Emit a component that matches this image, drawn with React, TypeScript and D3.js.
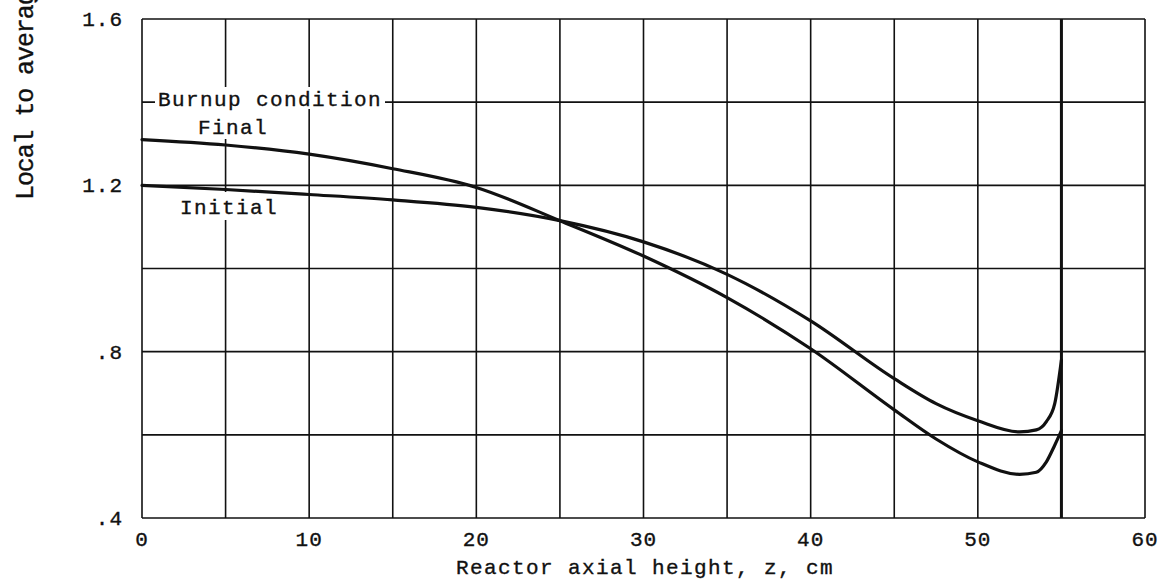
import React from "react";
import * as d3 from "d3";

// Axial positions (cm) at which the two distributions were read
const heights = [0, 5, 10, 15, 20, 25, 30, 35, 40, 45, 47.5, 50, 52.5, 53.5, 54.1, 54.6, 55];
// Local-to-average ratio, final burnup condition
const finalRatio = [1.31, 1.297, 1.275, 1.24, 1.195, 1.115, 1.03, 0.93, 0.807, 0.66, 0.59, 0.535, 0.505, 0.51, 0.535, 0.575, 0.61];
// Local-to-average ratio, initial burnup condition
const initialRatio = [1.2, 1.19, 1.178, 1.165, 1.147, 1.115, 1.064, 0.986, 0.874, 0.735, 0.675, 0.634, 0.607, 0.612, 0.632, 0.675, 0.78];

const xTicks = [0, 10, 20, 30, 40, 50, 60];
const xGrid = [0, 5, 10, 15, 20, 25, 30, 35, 40, 45, 50, 55, 60];
const yTicks = [1.6, 1.2, 0.8, 0.4];
const yTickLabels = ["1.6", "1.2", ".8", ".4"];
const yGrid = [0.4, 0.6, 0.8, 1.0, 1.2, 1.4, 1.6];
const coreEdge = 55;

const W = 1166;
const H = 584;
const FONT = "'Liberation Mono', 'DejaVu Sans Mono', monospace";

export default function App() {
  const x = d3.scaleLinear().domain([0, 60]).range([142, 1145]);
  const y = d3.scaleLinear().domain([0.4, 1.6]).range([518, 19]);

  const line = d3
    .line<number>()
    .x((_, i) => x(heights[i]))
    .y((d) => y(d))
    .curve(d3.curveMonotoneX);

  const textStyle: React.CSSProperties = {
    fontFamily: FONT,
    fontSize: 21,
    letterSpacing: 1.4,
    fill: "#111",
    stroke: "#111",
    strokeWidth: 0.35,
  };

  return (
    <svg
      width={W}
      height={H}
      viewBox={`0 0 ${W} ${H}`}
      style={{ position: "absolute", left: 0, top: 0, background: "#fff" }}
    >
      <rect x={0} y={0} width={W} height={H} fill="#fff" />

      {/* grid */}
      <g stroke="#111" strokeWidth={1.6}>
        {xGrid.map((v) => (
          <line key={`gx${v}`} x1={x(v)} x2={x(v)} y1={y(1.6)} y2={y(0.4)} />
        ))}
        {yGrid.map((v) => (
          <line key={`gy${v}`} x1={x(0)} x2={x(60)} y1={y(v)} y2={y(v)} />
        ))}
      </g>

      {/* core boundary */}
      <line
        x1={x(coreEdge)}
        x2={x(coreEdge)}
        y1={y(1.6)}
        y2={y(0.4)}
        stroke="#111"
        strokeWidth={3}
      />

      {/* in-plot labels, masking the grid behind them */}
      <g>
        <rect x={155} y={87} width={230} height={22} fill="#fff" />
        <rect x={195} y={109} width={78} height={30} fill="#fff" />
        <rect x={176} y={192} width={104} height={28} fill="#fff" />
        <text x={158} y={106} style={textStyle}>Burnup condition</text>
        <text x={233} y={134} textAnchor="middle" style={textStyle}>Final</text>
        <text x={229} y={214} textAnchor="middle" style={textStyle}>Initial</text>
      </g>

      {/* curves */}
      <g fill="none" stroke="#111" strokeWidth={3.2} strokeLinecap="round">
        <path d={line(finalRatio) ?? ""} />
        <path d={line(initialRatio) ?? ""} />
      </g>

      {/* tick labels */}
      <g style={textStyle}>
        {yTicks.map((v, i) => (
          <text key={`yt${v}`} x={123} y={y(v) + 7} textAnchor="end" letterSpacing={1}>
            {yTickLabels[i]}
          </text>
        ))}
        {xTicks.map((v) => (
          <text key={`xt${v}`} x={x(v)} y={546} textAnchor="middle" letterSpacing={1}>
            {v}
          </text>
        ))}
      </g>

      {/* axis titles */}
      <text x={645} y={574} textAnchor="middle" style={textStyle}>
        Reactor axial height, z, cm
      </text>
      <text
        transform="translate(33,200) rotate(-90)"
        style={{ ...textStyle, fontSize: 25, letterSpacing: -1.1 }}
      >
        Local to average
      </text>
    </svg>
  );
}
